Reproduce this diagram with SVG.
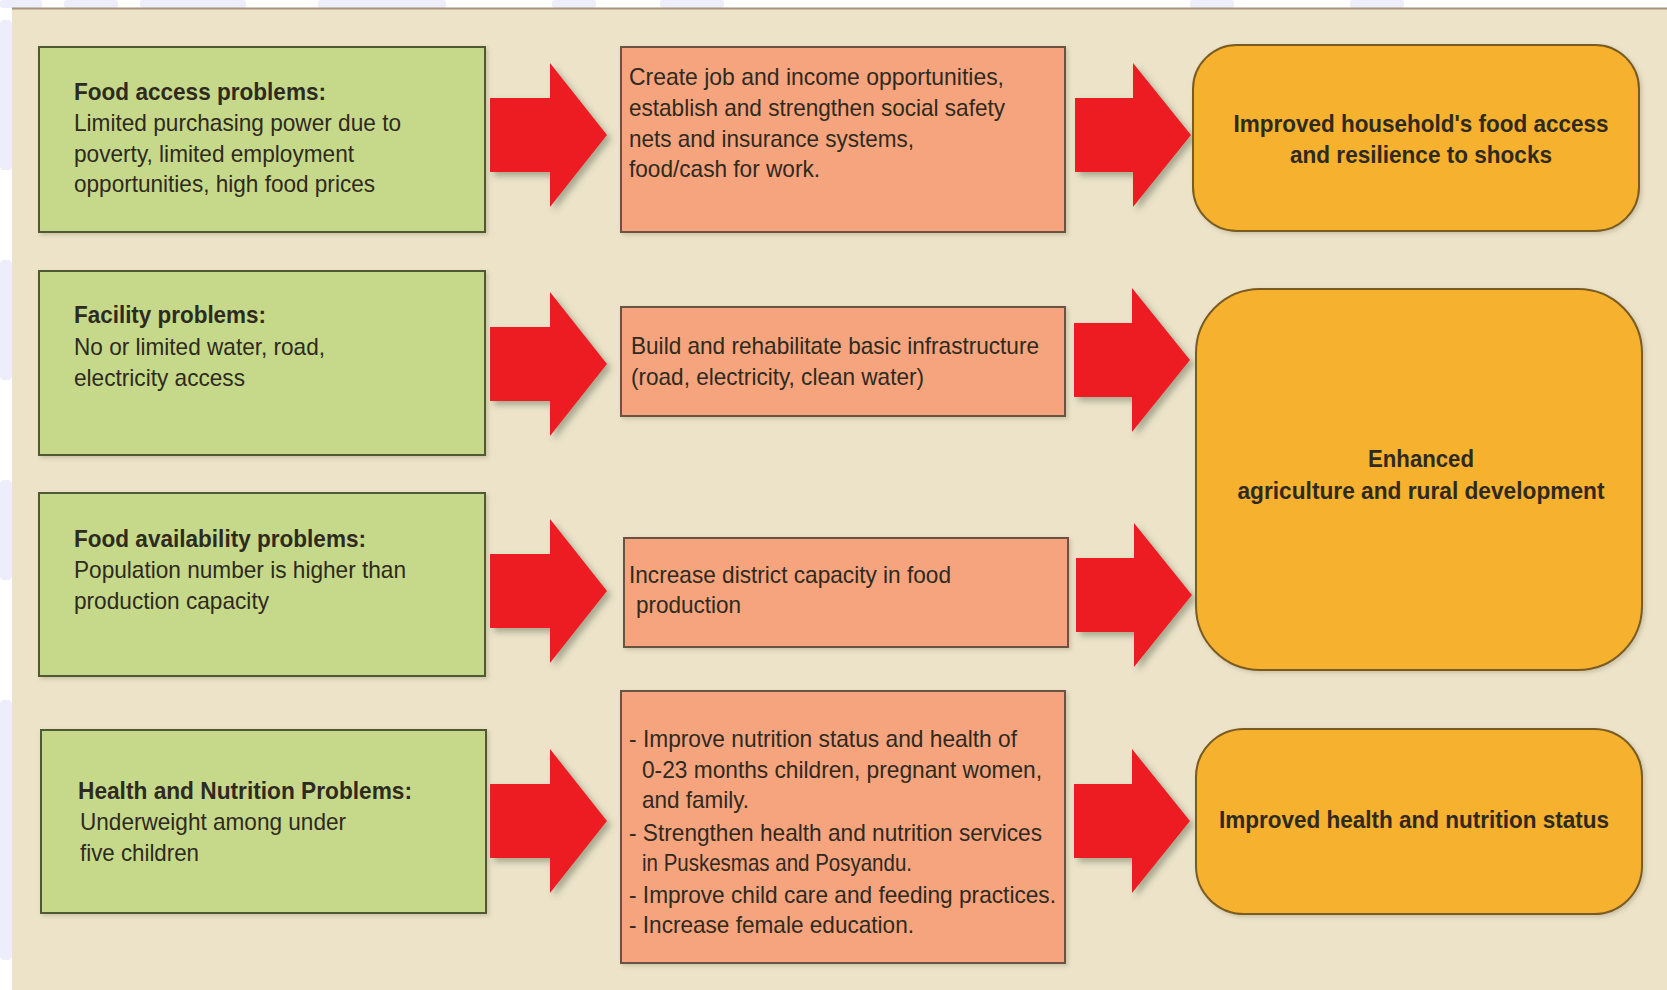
<svg xmlns="http://www.w3.org/2000/svg" width="1667" height="990" viewBox="0 0 1667 990">
  <defs>
    <filter id="shadow" x="-20%" y="-20%" width="150%" height="150%">
      <feDropShadow dx="4" dy="4" stdDeviation="3" flood-color="#55604a" flood-opacity="0.45"/>
    </filter>
    <filter id="boxShadow" x="-5%" y="-5%" width="110%" height="115%">
      <feDropShadow dx="2" dy="2" stdDeviation="2" flood-color="#8a8060" flood-opacity="0.35"/>
    </filter>
    <style>
      .problem { fill: #c6d98a; stroke: #4f5a36; stroke-width: 2; }
      .action { fill: #f5a47e; stroke: #6a5242; stroke-width: 2; }
      .outcome { fill: #f6b12d; stroke: #7a5c22; stroke-width: 2; }
      .arrow { fill: #ed1c24; filter: url(#shadow); }
      text { font-family: "Liberation Sans", Arial, sans-serif; font-size: 24px; fill: #2f2a20; }
      .b { font-weight: bold; }
      .c { text-anchor: middle; }
      .wm { fill: #ededfb; }
    </style>
  </defs>

  <!-- page background and faint watermark strip -->
  <rect x="0" y="0" width="1667" height="990" fill="#ffffff"/>
  <g id="watermark">
    <rect class="wm" x="0" y="0" width="42" height="8" rx="3"/>
    <rect class="wm" x="64" y="0" width="54" height="8" rx="3"/>
    <rect class="wm" x="140" y="0" width="106" height="8" rx="3"/>
    <rect class="wm" x="318" y="0" width="128" height="8" rx="3"/>
    <rect class="wm" x="552" y="0" width="44" height="8" rx="3"/>
    <rect class="wm" x="660" y="0" width="64" height="8" rx="3"/>
    <rect class="wm" x="1190" y="0" width="44" height="8" rx="3"/>
    <rect class="wm" x="1350" y="0" width="54" height="8" rx="3"/>
    <rect class="wm" x="0" y="20" width="12" height="150" rx="4"/>
    <rect class="wm" x="0" y="260" width="12" height="120" rx="4"/>
    <rect class="wm" x="0" y="480" width="12" height="100" rx="4"/>
    <rect class="wm" x="0" y="700" width="12" height="260" rx="4"/>
  </g>
  <rect x="12" y="8" width="1655" height="982" fill="#ece3c9"/>
  <line x1="12" y1="8.5" x2="1667" y2="8.5" stroke="#a4957a" stroke-width="2"/>

  <!-- connectors -->
  <g id="connectors">
    <polygon class="arrow" points="490,98 550,98 550,63 607,135 550,207 550,172 490,172"/>
    <polygon class="arrow" points="490,327 550,327 550,292 607,364 550,436 550,401 490,401"/>
    <polygon class="arrow" points="490,554 550,554 550,519 607,591 550,663 550,628 490,628"/>
    <polygon class="arrow" points="490,784 550,784 550,749 607,821 550,893 550,858 490,858"/>
    <polygon class="arrow" points="1075,98 1133,98 1133,63 1191,135 1133,207 1133,172 1075,172"/>
    <polygon class="arrow" points="1074,323 1132,323 1132,288 1190,360 1132,432 1132,397 1074,397"/>
    <polygon class="arrow" points="1076,558 1134,558 1134,523 1192,595 1134,667 1134,632 1076,632"/>
    <polygon class="arrow" points="1074,784 1132,784 1132,749 1190,821 1132,893 1132,858 1074,858"/>
  </g>

  <!-- problems -->
  <g id="food-access-problems">
    <rect class="problem" x="39" y="47" width="446" height="185" filter="url(#boxShadow)"/>
    <text class="b" x="74" y="100" textLength="252" lengthAdjust="spacingAndGlyphs">Food access problems:</text>
    <text x="74" y="131" textLength="327" lengthAdjust="spacingAndGlyphs">Limited purchasing power due to</text>
    <text x="74" y="162" textLength="280" lengthAdjust="spacingAndGlyphs">poverty, limited employment</text>
    <text x="74" y="192" textLength="301" lengthAdjust="spacingAndGlyphs">opportunities, high food prices</text>
  </g>
  <g id="facility-problems">
    <rect class="problem" x="39" y="271" width="446" height="184" filter="url(#boxShadow)"/>
    <text class="b" x="74" y="323" textLength="192" lengthAdjust="spacingAndGlyphs">Facility problems:</text>
    <text x="74" y="355" textLength="251" lengthAdjust="spacingAndGlyphs">No or limited water, road,</text>
    <text x="74" y="386" textLength="171" lengthAdjust="spacingAndGlyphs">electricity access</text>
  </g>
  <g id="food-availability-problems">
    <rect class="problem" x="39" y="493" width="446" height="183" filter="url(#boxShadow)"/>
    <text class="b" x="74" y="547" textLength="292" lengthAdjust="spacingAndGlyphs">Food availability problems:</text>
    <text x="74" y="578" textLength="332" lengthAdjust="spacingAndGlyphs">Population number is higher than</text>
    <text x="74" y="609" textLength="195" lengthAdjust="spacingAndGlyphs">production capacity</text>
  </g>
  <g id="health-nutrition-problems">
    <rect class="problem" x="41" y="730" width="445" height="183" filter="url(#boxShadow)"/>
    <text class="b" x="78" y="799" textLength="334" lengthAdjust="spacingAndGlyphs">Health and Nutrition Problems:</text>
    <text x="80" y="830" textLength="266" lengthAdjust="spacingAndGlyphs">Underweight among under</text>
    <text x="80" y="861" textLength="119" lengthAdjust="spacingAndGlyphs">five children</text>
  </g>

  <!-- actions -->
  <g id="jobs-safety-nets">
    <rect class="action" x="621" y="47" width="444" height="185" filter="url(#boxShadow)"/>
    <text x="629" y="85" textLength="375" lengthAdjust="spacingAndGlyphs">Create job and income  opportunities,</text>
    <text x="629" y="116" textLength="376" lengthAdjust="spacingAndGlyphs">establish and strengthen social safety</text>
    <text x="629" y="147" textLength="285" lengthAdjust="spacingAndGlyphs">nets and insurance systems,</text>
    <text x="629" y="177" textLength="191" lengthAdjust="spacingAndGlyphs">food/cash for work.</text>
  </g>
  <g id="infrastructure">
    <rect class="action" x="621" y="307" width="444" height="109" filter="url(#boxShadow)"/>
    <text x="631" y="354" textLength="408" lengthAdjust="spacingAndGlyphs">Build and rehabilitate basic infrastructure</text>
    <text x="631" y="385" textLength="293" lengthAdjust="spacingAndGlyphs">(road, electricity, clean water)</text>
  </g>
  <g id="food-production">
    <rect class="action" x="624" y="538" width="444" height="109" filter="url(#boxShadow)"/>
    <text x="629" y="583" textLength="322" lengthAdjust="spacingAndGlyphs">Increase district capacity in food</text>
    <text x="636" y="613" textLength="105" lengthAdjust="spacingAndGlyphs">production</text>
  </g>
  <g id="nutrition-actions">
    <rect class="action" x="621" y="691" width="444" height="272" filter="url(#boxShadow)"/>
    <text x="629" y="747" textLength="388" lengthAdjust="spacingAndGlyphs">- Improve nutrition status and health of</text>
    <text x="642" y="778" textLength="400" lengthAdjust="spacingAndGlyphs">0-23 months children, pregnant women,</text>
    <text x="642" y="808" textLength="107" lengthAdjust="spacingAndGlyphs">and family.</text>
    <text x="629" y="841" textLength="413" lengthAdjust="spacingAndGlyphs">- Strengthen health and nutrition services</text>
    <text x="642" y="871" textLength="270" lengthAdjust="spacingAndGlyphs">in Puskesmas and Posyandu.</text>
    <text x="629" y="903" textLength="427" lengthAdjust="spacingAndGlyphs">- Improve child care and feeding practices.</text>
    <text x="629" y="933" textLength="285" lengthAdjust="spacingAndGlyphs">- Increase female education.</text>
  </g>

  <!-- outcomes -->
  <g id="food-access-outcome">
    <rect class="outcome" x="1193" y="45" width="446" height="186" rx="44" ry="44" filter="url(#boxShadow)"/>
    <text class="b c" x="1421" y="132" textLength="375" lengthAdjust="spacingAndGlyphs">Improved household's food access</text>
    <text class="b c" x="1421" y="163" textLength="262" lengthAdjust="spacingAndGlyphs">and resilience to shocks</text>
  </g>
  <g id="agriculture-outcome">
    <rect class="outcome" x="1196" y="289" width="446" height="381" rx="64" ry="64" filter="url(#boxShadow)"/>
    <text class="b c" x="1421" y="467" textLength="106" lengthAdjust="spacingAndGlyphs">Enhanced</text>
    <text class="b c" x="1421" y="499" textLength="367" lengthAdjust="spacingAndGlyphs">agriculture and rural development</text>
  </g>
  <g id="health-outcome">
    <rect class="outcome" x="1196" y="729" width="446" height="185" rx="48" ry="48" filter="url(#boxShadow)"/>
    <text class="b c" x="1414" y="828" textLength="390" lengthAdjust="spacingAndGlyphs">Improved health and nutrition status</text>
  </g>
</svg>
